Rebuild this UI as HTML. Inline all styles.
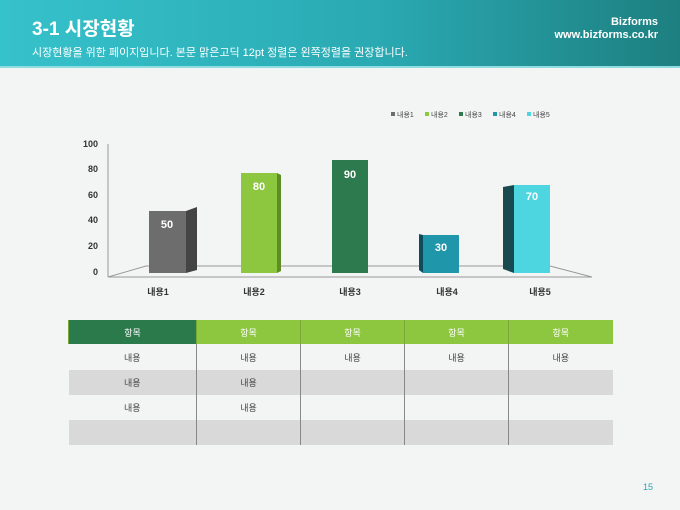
<!DOCTYPE html>
<html><head><meta charset="utf-8"><style>
body{margin:0;width:680px;height:510px;overflow:hidden;background:#f3f4f4;font-family:"Liberation Sans","Noto Sans CJK KR",sans-serif;position:relative}
.ban{position:absolute;left:0;top:0;width:680px;height:66px;background:linear-gradient(90deg,#36c2cb 0%,#2aaab3 55%,#1d7f80 100%);border-bottom:2px solid #8fdde0}
.t{position:absolute;left:32px;top:14px;color:#fff;font-size:19px;font-weight:bold}
.s{position:absolute;left:32px;top:44px;color:#fff;font-size:11px}
.b{position:absolute;right:22px;top:16px;color:#fff;font-size:11px;font-weight:bold;text-align:right;line-height:13px}
table{position:absolute;left:68px;top:320px;width:544px;border-collapse:collapse;table-layout:fixed;font-size:9px;color:#444}
td{height:25px;text-align:center;border-left:1px solid #888;padding:0}
td:first-child{border-left:none}
tr.h td{background:#8dc63f;color:#fff;border-left:1px solid #7aa83a;height:24px}
tr.h td:first-child{background:#2b7a4b}
tr.r1 td{height:26px}
tr.g td{background:#d9d9d9}
.pn{position:absolute;left:643px;top:482px;font-size:9px;color:#2aa6ad}
</style></head><body>
<div class="ban"><div class="t">3-1 시장현황</div><div class="s">시장현황을 위한 페이지입니다. 본문 맑은고딕 12pt 정렬은 왼쪽정렬을 권장합니다.</div><div class="b">Bizforms<br>www.bizforms.co.kr</div></div>
<svg width="680" height="510" style="position:absolute;left:0;top:0" font-family="Liberation Sans, Noto Sans CJK KR, sans-serif">
<g font-size="7" fill="#444">
<rect x="391" y="112" width="4" height="4" fill="#6d6d6d"/><text x="397" y="117">내용1</text>
<rect x="425" y="112" width="4" height="4" fill="#8dc63f"/><text x="431" y="117">내용2</text>
<rect x="459" y="112" width="4" height="4" fill="#2e7a4f"/><text x="465" y="117">내용3</text>
<rect x="493" y="112" width="4" height="4" fill="#1f96aa"/><text x="499" y="117">내용4</text>
<rect x="527" y="112" width="4" height="4" fill="#4dd6e0"/><text x="533" y="117">내용5</text>
</g>
<g stroke="#999" fill="none" stroke-width="1"><line x1="108" y1="144" x2="108" y2="277"/><polyline points="108,277 146,266 550,266 592,277 108,277"/></g>
<g font-size="9" font-weight="bold" fill="#333" text-anchor="end">
<text x="98" y="147">100</text><text x="98" y="172">80</text><text x="98" y="198">60</text><text x="98" y="223">40</text><text x="98" y="249">20</text><text x="98" y="275">0</text></g>
<g font-size="9" font-weight="bold" fill="#333" text-anchor="middle">
<text x="158" y="295">내용1</text><text x="254" y="295">내용2</text><text x="350" y="295">내용3</text><text x="447" y="295">내용4</text><text x="540" y="295">내용5</text></g>
<rect x="149" y="211" width="37" height="62" fill="#6d6d6d"/><polygon points="186,211 197,207 197,270 186,273" fill="#444"/>
<rect x="241" y="173" width="36" height="100" fill="#8dc63f"/><polygon points="277,173 281,175 281,271 277,273" fill="#5e8d26"/>
<rect x="332" y="160" width="36" height="113" fill="#2e7a4f"/>
<rect x="423" y="235" width="36" height="38" fill="#1f96aa"/><polygon points="419,234 423,235 423,273 419,270" fill="#0e4c5c"/>
<rect x="514" y="185" width="36" height="88" fill="#4dd6e0"/><polygon points="503,187 514,185 514,273 503,269" fill="#184a50"/>
<g font-size="11" font-weight="bold" fill="#fff" text-anchor="middle">
<text x="167" y="228">50</text><text x="259" y="190">80</text><text x="350" y="178">90</text><text x="441" y="251">30</text><text x="532" y="200">70</text></g>
</svg>
<table>
<colgroup><col style="width:128px"><col style="width:104px"><col style="width:104px"><col style="width:104px"><col style="width:104px"></colgroup>
<tr class="h"><td>항목</td><td>항목</td><td>항목</td><td>항목</td><td>항목</td></tr>
<tr class="r1"><td>내용</td><td>내용</td><td>내용</td><td>내용</td><td>내용</td></tr>
<tr class="g"><td>내용</td><td>내용</td><td></td><td></td><td></td></tr>
<tr><td>내용</td><td>내용</td><td></td><td></td><td></td></tr>
<tr class="g"><td></td><td></td><td></td><td></td><td></td></tr>
</table>
<div class="pn">15</div>
</body></html>
